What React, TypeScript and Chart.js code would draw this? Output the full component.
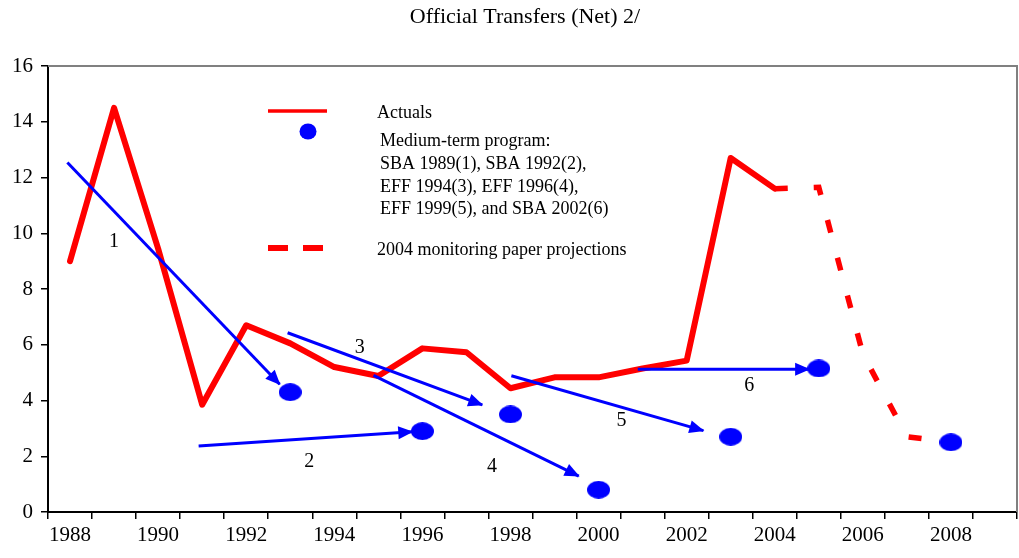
import React, { useEffect, useRef } from "react";
import { Chart, registerables } from "chart.js";

Chart.register(...registerables);

// ---- data ----
const years = [1988, 1989, 1990, 1991, 1992, 1993, 1994, 1995, 1996, 1997, 1998, 1999, 2000, 2001, 2002, 2003, 2004, 2005, 2006, 2007, 2008, 2009];
const xTickLabels = ["1988", "", "1990", "", "1992", "", "1994", "", "1996", "", "1998", "", "2000", "", "2002", "", "2004", "", "2006", "", "2008", ""];
const yTicks = [0, 2, 4, 6, 8, 10, 12, 14, 16];

const actualYears = [1988, 1989, 1990, 1991, 1992, 1993, 1994, 1995, 1996, 1997, 1998, 1999, 2000, 2001, 2002, 2003, 2004];
const actualValues = [9.0, 14.5, 9.45, 3.85, 6.7, 6.05, 5.2, 4.88, 5.87, 5.73, 4.44, 4.83, 4.83, 5.15, 5.43, 12.7, 11.6];

const projectionYears = [2004, 2005, 2006, 2007, 2008];
const projectionValues = [11.6, 11.65, 5.67, 2.7, 2.5];

const programYears = [1993, 1996, 1998, 2000, 2003, 2005, 2008];
const programValues = [4.3, 2.9, 3.5, 0.8, 2.7, 5.15, 2.5];

// arrows: program paths (start -> end), in data units
const arrowNames = ["1", "2", "3", "4", "5", "6"];
const arrowStartX = [1987.94, 1990.92, 1992.94, 1994.89, 1998.02, 2000.89];
const arrowStartY = [12.54, 2.37, 6.43, 4.9, 4.89, 5.12];
const arrowEndX = [1992.76, 1995.77, 1997.36, 1999.55, 2002.38, 2004.78];
const arrowEndY = [4.58, 2.88, 3.84, 1.29, 2.92, 5.12];
// arrow number labels, anchored in data units
const arrowLabelX = [1989.0, 1993.43, 1994.58, 1997.58, 2000.52, 2003.42];
const arrowLabelY = [9.68, 1.8, 5.89, 1.63, 3.26, 4.53];

const titleText = "Official Transfers (Net) 2/";
const legendActuals = "Actuals";
const legendProgram = [
  "Medium-term program:",
  "SBA 1989(1), SBA 1992(2),",
  "EFF 1994(3), EFF 1996(4),",
  "EFF 1999(5), and SBA 2002(6)",
];
const legendProjection = "2004 monitoring paper projections";

const SERIF = '"Liberation Serif", "Times New Roman", Times, serif';
const RED = "#ff0000";
const BLUE = "#0000ff";

export default function App() {
  const ref = useRef<HTMLCanvasElement | null>(null);

  useEffect(() => {
    document.body.style.margin = "0";
    const canvas = ref.current;
    if (!canvas) return;

    const dot = document.createElement("canvas");
    dot.width = 23;
    dot.height = 18;
    const dc = dot.getContext("2d")!;
    dc.fillStyle = BLUE;
    dc.beginPath();
    dc.ellipse(11.5, 9, 11.5, 9, 0, 0, Math.PI * 2);
    dc.fill();

    const arrowDatasets = arrowNames.map((n, i) => ({
      type: "line" as const,
      label: "arrow-" + n,
      data: [
        { x: arrowStartX[i], y: arrowStartY[i] },
        { x: arrowEndX[i], y: arrowEndY[i] },
      ],
      borderColor: BLUE,
      borderWidth: 3,
      pointRadius: 0,
      tension: 0,
      borderCapStyle: "butt" as const,
      order: 1,
    }));

    const framePlugin = {
      id: "frame",
      beforeDatasetsDraw(chart: any) {
        const { ctx, chartArea } = chart;
        ctx.save();
        ctx.strokeStyle = "#808080";
        ctx.lineWidth = 2;
        ctx.beginPath();
        ctx.moveTo(chartArea.left, chartArea.top);
        ctx.lineTo(chartArea.right, chartArea.top);
        ctx.lineTo(chartArea.right, chartArea.bottom);
        ctx.stroke();
        ctx.restore();
      },
    };

    const arrowHeadPlugin = {
      id: "arrowHeads",
      afterDatasetDraw(chart: any, args: any) {
        const ds = chart.data.datasets[args.index];
        if (!ds.label || !String(ds.label).startsWith("arrow-")) return;
        const pts = args.meta.data;
        if (pts.length < 2) return;
        const p0 = pts[0];
        const p1 = pts[1];
        const ang = Math.atan2(p1.y - p0.y, p1.x - p0.x);
        const len = 14;
        const hw = 6.5;
        const ctx = chart.ctx;
        ctx.save();
        ctx.fillStyle = BLUE;
        ctx.translate(p1.x, p1.y);
        ctx.rotate(ang);
        ctx.beginPath();
        ctx.moveTo(1, 0);
        ctx.lineTo(-len, -hw);
        ctx.lineTo(-len, hw);
        ctx.closePath();
        ctx.fill();
        ctx.restore();
      },
    };

    const annotationPlugin = {
      id: "annotations",
      afterDraw(chart: any) {
        const { ctx } = chart;
        const xs = chart.scales.x;
        const ys = chart.scales.y;
        ctx.save();
        // title
        ctx.fillStyle = "#000";
        ctx.font = `22px ${SERIF}`;
        ctx.textAlign = "center";
        ctx.textBaseline = "middle";
        ctx.fillText(titleText, 525, 17.5);

        ctx.font = `20px ${SERIF}`;
        arrowNames.forEach((n, i) => {
          ctx.fillText(n, xs.getPixelForValue(arrowLabelX[i]), ys.getPixelForValue(arrowLabelY[i]));
        });

        // legend
        ctx.strokeStyle = RED;
        ctx.lineWidth = 3.5;
        ctx.beginPath();
        ctx.moveTo(268, 111);
        ctx.lineTo(327, 111);
        ctx.stroke();

        ctx.fillStyle = BLUE;
        ctx.beginPath();
        ctx.ellipse(308, 131.5, 8.5, 8, 0, 0, Math.PI * 2);
        ctx.fill();

        ctx.strokeStyle = RED;
        ctx.lineWidth = 6;
        ctx.beginPath();
        ctx.moveTo(268, 248);
        ctx.lineTo(288, 248);
        ctx.moveTo(303, 248);
        ctx.lineTo(323, 248);
        ctx.stroke();

        ctx.fillStyle = "#000";
        ctx.font = `18px ${SERIF}`;
        ctx.textAlign = "left";
        ctx.textBaseline = "alphabetic";
        ctx.fillText(legendActuals, 377, 117.5);
        const baselines = [145.5, 168.5, 191.5, 214];
        legendProgram.forEach((t, i) => ctx.fillText(t, 380, baselines[i]));
        ctx.fillText(legendProjection, 377, 254.5);
        ctx.restore();
      },
    };

    const chart = new Chart(canvas, {
      type: "line",
      data: {
        datasets: [
          {
            type: "line",
            label: "Medium-term program",
            data: programYears.map((x, i) => ({ x, y: programValues[i] })),
            showLine: false,
            pointStyle: dot as any,
            pointRadius: 11,
            pointHoverRadius: 11,
            order: 0,
          },
          ...arrowDatasets,
          {
            type: "line",
            label: "2004 monitoring paper projections",
            data: projectionYears.map((x, i) => ({ x, y: projectionValues[i] })),
            borderColor: RED,
            borderWidth: 5.5,
            borderDash: [13, 26],
            borderCapStyle: "butt",
            borderJoinStyle: "miter",
            pointRadius: 0,
            tension: 0,
            order: 2,
          },
          {
            type: "line",
            label: "Actuals",
            data: actualYears.map((x, i) => ({ x, y: actualValues[i] })),
            borderColor: RED,
            borderWidth: 6,
            borderCapStyle: "round",
            borderJoinStyle: "round",
            pointRadius: 0,
            tension: 0,
            order: 3,
          },
        ] as any,
      },
      options: {
        animation: false,
        responsive: false,
        devicePixelRatio: 1,
        events: [],
        layout: { autoPadding: false, padding: { left: 0, right: 2, top: 66, bottom: 0 } },
        plugins: {
          legend: { display: false },
          tooltip: { enabled: false },
          title: { display: false },
        },
        scales: {
          x: {
            type: "linear",
            min: 1987.5,
            max: 2009.5,
            afterBuildTicks: (s: any) => {
              s.ticks = years.map((v) => ({ value: v }));
            },
            afterFit: (s: any) => {
              s.height = 46;
              s.paddingLeft = 0;
              s.paddingRight = 0;
            },
            ticks: {
              autoSkip: false,
              maxRotation: 0,
              minRotation: 0,
              color: "#000",
              padding: 4,
              font: { family: SERIF, size: 21 },
              callback: (_v: any, i: number) => xTickLabels[i],
            },
            grid: {
              offset: true,
              drawOnChartArea: false,
              drawTicks: true,
              tickLength: 7,
              color: "#000",
              lineWidth: 1.5,
            },
            border: { color: "#000", width: 2 },
          },
          y: {
            type: "linear",
            min: 0,
            max: 16,
            afterBuildTicks: (s: any) => {
              s.ticks = yTicks.map((v) => ({ value: v }));
            },
            afterFit: (s: any) => {
              s.width = 48;
              s.paddingTop = 0;
              s.paddingBottom = 0;
            },
            ticks: {
              color: "#000",
              padding: 8,
              font: { family: SERIF, size: 21 },
            },
            grid: {
              drawOnChartArea: false,
              drawTicks: true,
              tickLength: 7,
              color: "#000",
              lineWidth: 1.5,
            },
            border: { color: "#000", width: 2 },
          },
        },
      } as any,
      plugins: [framePlugin, arrowHeadPlugin, annotationPlugin],
    });

    return () => chart.destroy();
  }, []);

  return (
    <div style={{ width: 1019, height: 558 }}>
      <canvas ref={ref} width={1019} height={558} style={{ display: "block" }} />
    </div>
  );
}
